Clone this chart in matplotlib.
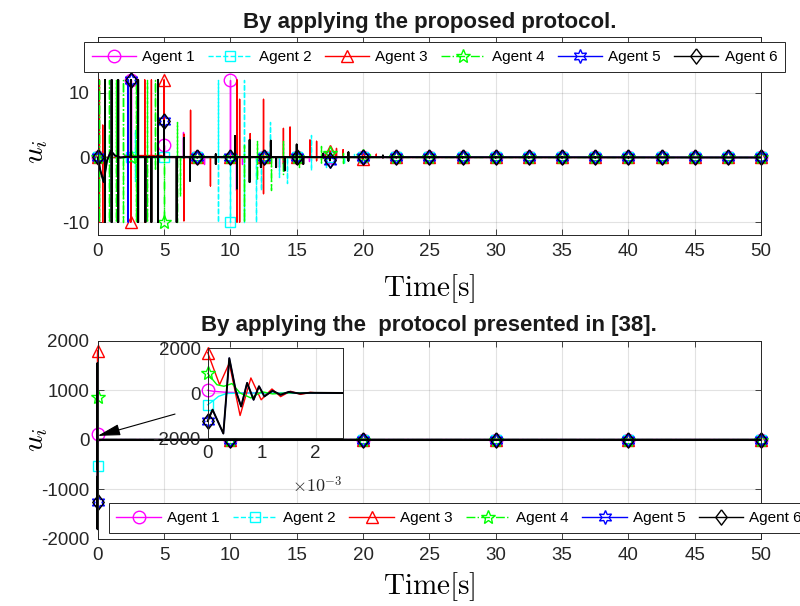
import numpy as np
import matplotlib.pyplot as plt
from matplotlib.lines import Line2D
from matplotlib.ticker import FuncFormatter

plt.rcParams['font.family'] = ['Liberation Sans', 'DejaVu Sans']
plt.rcParams['mathtext.fontset'] = 'cm'
plt.rcParams['axes.unicode_minus'] = False

# ---------------- data ----------------
names = ['Agent 1', 'Agent 2', 'Agent 3', 'Agent 4', 'Agent 5', 'Agent 6']
colors = ['#ff00ff', '#00ffff', '#ff0000', '#00ff00', '#0000ff', '#000000']
styles = ['-', '--', '-', '-.', '-', '-']
widths = [1.0, 1.0, 1.0, 1.0, 1.0, 1.4]
diamond = [(0, 1), (0.75, 0), (0, -1), (-0.75, 0), (0, 1)]
markers = ['o', 's', '^', '*', (6, 1, 0), diamond]
msizes = [9, 7, 9, 10, 10, 11]

# marker times of the top panel (every 2.5 s)
mark_t = [0, 2.5, 5, 7.5, 10, 12.5, 15, 17.5, 20, 22.5, 25, 27.5, 30,
          32.5, 35, 37.5, 40, 42.5, 45, 47.5, 50]

# value of u_i at marker times
mk1 = [0, 12, 2, 0, 12, 0, 0, 0, 0, 0, 0, 0, 0, 0, 0, 0, 0, 0, 0, 0, 0]
mk2 = [0, 0, 0, 0, -10, 0, 0, 0, 0, 0, 0, 0, 0, 0, 0, 0, 0, 0, 0, 0, 0]
mk3 = [0, -10, 12, 0, 0, 0, 0, 1.0, -0.3, 0, 0, 0, 0, 0, 0, 0, 0, 0, 0, 0, 0]
mk4 = [0, 0, -10, 0, 0, 0, 0, 0.7, 0.2, 0, 0, 0, 0, 0, 0, 0, 0, 0, 0, 0, 0]
mk5 = [0, 12, 5.7, 0, 0, 0, 0, -0.5, 0, 0, 0, 0, 0, 0, 0, 0, 0, 0, 0, 0, 0]
mk6 = [0, 12, 5.7, 0, 0, 0, 0, -0.4, 0, 0, 0, 0, 0, 0, 0, 0, 0, 0, 0, 0, 0]

# switching spikes: time, upper value, lower value
sp1_t = [2.0, 6.4, 8.0, 10.4, 10.9, 13.7, 15.9, 17.4]
sp1_hi = [0.5, 4.0, 0, 0, 0, 0, 0, 0.5]
sp1_lo = [0, 0, -1, -5, -1, -1.5, -0.5, 0]

sp2_t = [2.8, 9.1, 11.0, 11.95, 12.3, 13.0, 13.7, 14.3, 16.1, 17.2, 18.6, 19.3]
sp2_hi = [4.3, 12, 12, 0, 0, 5.5, 0, 0, 3.5, 0, 0, 0.5]
sp2_lo = [-3.6, -10, -10, -10, -5, 0, -3, -4, -2, -1.5, -1, 0]

sp3_t = [0.13, 0.38, 3.55, 4.05, 6.5, 7.0, 8.5, 10.5, 10.7, 11.5, 12.5,
         14.0, 14.5, 16.0, 16.5, 18.0, 18.5, 21.0]
sp3_hi = [12, 5, 12, 12, 3.6, 7.3, 0, 12, 9, 3.7, 9, 4.5, 4.7, 2.7, 2.5, 1.4, 1.2, 0.5]
sp3_lo = [-10, -10, -10, -10, -9.8, 0, -4.4, -10, -10, 0, -5.6, -1, 0, 0, -0.5, 0, 0, 0]

sp4_t = [0.1, 0.85, 1.4, 1.9, 2.9, 3.75, 4.3, 6.0, 6.2, 11.05, 12.0, 13.1,
         14.0, 15.2, 16.8, 18.5, 20.5]
sp4_hi = [12, 12, 12, 12, 12, 12, 12, 5.5, 0, 2, 2.5, 0, 2.5, 1, 1.8, 0.7, 0.6]
sp4_lo = [-10, -10, -10, -10, -10, -10, -2, -10, -6, -10, -3.5, -5, -2.5, -1.5, -1, -0.8, 0]

sp5_t = [0.55, 1.05, 2.3, 3.05, 4.55]
sp5_hi = [12, 12, 12, 12, 12]
sp5_lo = [-10, -10, -10, -10, -10]

sp6_t = [0.55, 1.05, 1.55, 3.05, 3.6, 4.05, 4.55, 5.95, 6.5, 6.96, 8.9, 10.35,
         10.5, 11.45, 12.3, 13.05, 13.45, 14.1, 15.0, 15.5, 17.0, 18.9, 21.5]
sp6_hi = [12, 12, 12, 12, 0, 0, 12, 0, 3, 0, 0.5, 3.3, 0, 2.7, 0, 2.6, 0, 0, 2, 0, 0.6, 0.8, 0.3]
sp6_lo = [-10, -10, -10, -10, -10, -10, -10, -10, 0, -3.6, -1, 0, -4.8, -3.8,
          -1.5, 0, -1.5, -2, -1, -1, 0, -0.5, 0]

# smooth part of the response (start transient)
wave3_t = [0, 1.8, 2.2, 4.8, 5.2, 50]
wave3_y = [0, 0, 0.3, 0.3, 0, 0]
wave6_t = [0, 0.2, 0.45, 0.7, 1.0, 1.3, 1.7, 2.2, 50]
wave6_y = [0, -2, -3.8, -0.5, 1.0, 0.3, 0.0, 0.1, 0]
flat_t = [0, 50]
flat_y = [0, 0]

# bottom panel: fast transient of protocol [38], time in ms
b1_t = [0, 0.1, 0.3, 0.6, 1.0, 2.5]
b1_v = [120, 80, 40, 10, 0, 0]
b2_t = [0, 0.1, 0.2, 0.35, 0.6, 2.5]
b2_v = [-520, -350, -150, -20, 0, 0]
b3_t = [0, 0.22, 0.40, 0.60, 0.80, 0.99, 1.19, 1.35, 1.53, 1.72, 1.9, 2.1, 2.5]
b3_v = [1800, 370, 1330, -1000, 670, -300, 180, -160, 80, -60, 30, -10, 0]
b4_t = [0, 0.17, 0.3, 0.45, 0.6, 0.8, 1.0, 1.2, 1.5, 2.5]
b4_v = [870, 370, 300, 420, 0, -220, 60, -40, 10, 0]
b5_t = [0, 0.09, 0.29, 0.40, 0.52, 0.62, 0.73, 0.85, 0.95, 1.05, 1.2, 1.35, 1.5, 1.7, 1.9, 2.5]
b5_v = [-1250, -740, -1800, 1550, 100, -600, 450, -300, 300, -150, 100, -80, 50, -20, 10, 0]
b6_t = b5_t
b6_v = b5_v
b_mark_t = [10, 20, 30, 40, 50]


def build_line(sp_t, sp_hi, sp_lo, mk_v, wave_t, wave_y):
    segs = []
    for t, w in zip(wave_t, wave_y):
        segs.append((t, 0, [(t, w)], None))
    for t, hi, lo in zip(sp_t, sp_hi, sp_lo):
        b = np.interp(t, wave_t, wave_y)
        segs.append((t, 1, [(t, b), (t, hi), (t, lo), (t, b)], None))
    for t, v in zip(mark_t, mk_v):
        b = np.interp(t, wave_t, wave_y)
        segs.append((t, 2, [(t, b), (t, v), (t, b)], 1))
    segs.sort(key=lambda s: (s[0], s[1]))
    xs, ys, idx = [], [], []
    for _, _, pts, mi in segs:
        if mi is not None:
            idx.append(len(xs) + mi)
        for px, py in pts:
            xs.append(px)
            ys.append(py)
    return np.array(xs), np.array(ys), idx


top_lines = [
    build_line(sp1_t, sp1_hi, sp1_lo, mk1, flat_t, flat_y),
    build_line(sp2_t, sp2_hi, sp2_lo, mk2, flat_t, flat_y),
    build_line(sp3_t, sp3_hi, sp3_lo, mk3, wave3_t, wave3_y),
    build_line(sp4_t, sp4_hi, sp4_lo, mk4, flat_t, flat_y),
    build_line(sp5_t, sp5_hi, sp5_lo, mk5, wave6_t, wave6_y),
    build_line(sp6_t, sp6_hi, sp6_lo, mk6, wave6_t, wave6_y),
]
bot_data = [(b1_t, b1_v), (b2_t, b2_v), (b3_t, b3_v), (b4_t, b4_v), (b5_t, b5_v), (b6_t, b6_v)]

# ---------------- figure ----------------
fig = plt.figure(figsize=(8, 6.06), dpi=100)
ax1 = fig.add_axes([0.1221, 0.6122, 0.8292, 0.3262])
ax2 = fig.add_axes([0.1221, 0.1106, 0.8292, 0.3272])
axin = fig.add_axes([0.2596, 0.2772, 0.1688, 0.1485])

dark = '#262626'


def style_axes(ax, size=13.5):
    ax.tick_params(direction='in', top=True, right=True, length=4, width=0.6,
                   labelsize=size, colors=dark, pad=6)
    for s in ax.spines.values():
        s.set_color(dark)
        s.set_linewidth(0.7)
    ax.grid(True, color=dark, alpha=0.13, linewidth=0.8)
    ax.set_axisbelow(True)


for i in range(6):
    x, y, idx = top_lines[i]
    ax1.plot(x, y, color=colors[i], ls=styles[i], lw=widths[i],
             marker=markers[i], markevery=idx, ms=msizes[i],
             mfc='none', mec=colors[i], mew=1.0, clip_on=False)
ax1.set_xlim(0, 50)
ax1.set_ylim(-12, 18.6)
ax1.set_xticks(range(0, 51, 5))
ax1.set_yticks([-10, 0, 10])
style_axes(ax1)
ax1.set_title('By applying the proposed protocol.', fontsize=16,
              fontweight='bold', color='#1a1a1a', pad=7)
ax1.set_xlabel(r'$\mathrm{Time[s]}$', fontsize=21)
ax1.set_ylabel(r'$u_i$', fontsize=21)
ax1.xaxis.set_label_coords(0.5, -0.19)
ax1.yaxis.set_label_coords(-0.072, 0.42)

for i in range(6):
    bt, bv = bot_data[i]
    t_all = np.concatenate([np.array(bt) * 1e-3, b_mark_t])
    v_all = np.concatenate([bv, np.zeros(len(b_mark_t))])
    idx = [0] + list(range(len(bt), len(t_all)))
    ax2.plot(t_all, v_all, color=colors[i], ls=styles[i], lw=widths[i] + 0.3,
             marker=markers[i], markevery=idx, ms=msizes[i],
             mfc='none', mec=colors[i], mew=1.0, clip_on=False)
    axin.plot(np.array(bt) * 1e-3, bv, color=colors[i], ls='-', lw=widths[i],
              marker=markers[i], markevery=[0], ms=msizes[i],
              mfc='none', mec=colors[i], mew=1.0, clip_on=False)
ax2.set_xlim(0, 50)
ax2.set_ylim(-2000, 2000)
ax2.set_xticks(range(0, 51, 5))
ax2.set_yticks([-2000, -1000, 0, 1000, 2000])
style_axes(ax2)
ax2.set_title('By applying the  protocol presented in [38].', fontsize=16,
              fontweight='bold', color='#1a1a1a', pad=7)
ax2.set_xlabel(r'$\mathrm{Time[s]}$', fontsize=21)
ax2.set_ylabel(r'$u_i$', fontsize=21)
ax2.xaxis.set_label_coords(0.5, -0.155)
ax2.yaxis.set_label_coords(-0.072, 0.5)

axin.set_xlim(0, 2.5e-3)
axin.set_ylim(-2000, 2000)
axin.set_xticks([0, 1e-3, 2e-3])
axin.set_yticks([-2000, 0, 2000])
axin.xaxis.set_major_formatter(FuncFormatter(lambda v, p: '%g' % round(v * 1e3, 6)))
style_axes(axin)
axin.tick_params(top=False, right=False, direction='out', length=0, pad=5)
axin.set_facecolor('white')
axin.text(1.0, -0.42, r'$\times10^{-3}$', transform=axin.transAxes,
          ha='right', va='top', fontsize=13, color=dark)

ax2.annotate('', xy=(0.0, 80), xycoords='data',
             xytext=(0.1166, 0.63), textcoords='axes fraction',
             arrowprops=dict(arrowstyle='-|>,head_length=1.4,head_width=0.35',
                             color='k', lw=0.8, shrinkA=0, shrinkB=0))

handles = [Line2D([], [], color=colors[i], ls=styles[i], lw=1.0,
                  marker=markers[i], ms=msizes[i], mfc='none', mec=colors[i])
           for i in range(6)]
leg_kw = dict(ncol=6, mode='expand', loc='center', fontsize=11,
              handlelength=2.9, handletextpad=0.4, columnspacing=0.6,
              fancybox=False, framealpha=1, edgecolor=dark, borderpad=0.5,
              borderaxespad=0)
leg1 = fig.legend(handles, names, bbox_to_anchor=(0.105, 0.8812, 0.876, 0.0495),
                  **leg_kw)
leg2 = fig.legend(handles, names, bbox_to_anchor=(0.136, 0.1221, 0.876, 0.0462),
                  **leg_kw)
for lg in (leg1, leg2):
    lg.get_frame().set_linewidth(0.7)

fig.savefig('out.png', dpi=100)
